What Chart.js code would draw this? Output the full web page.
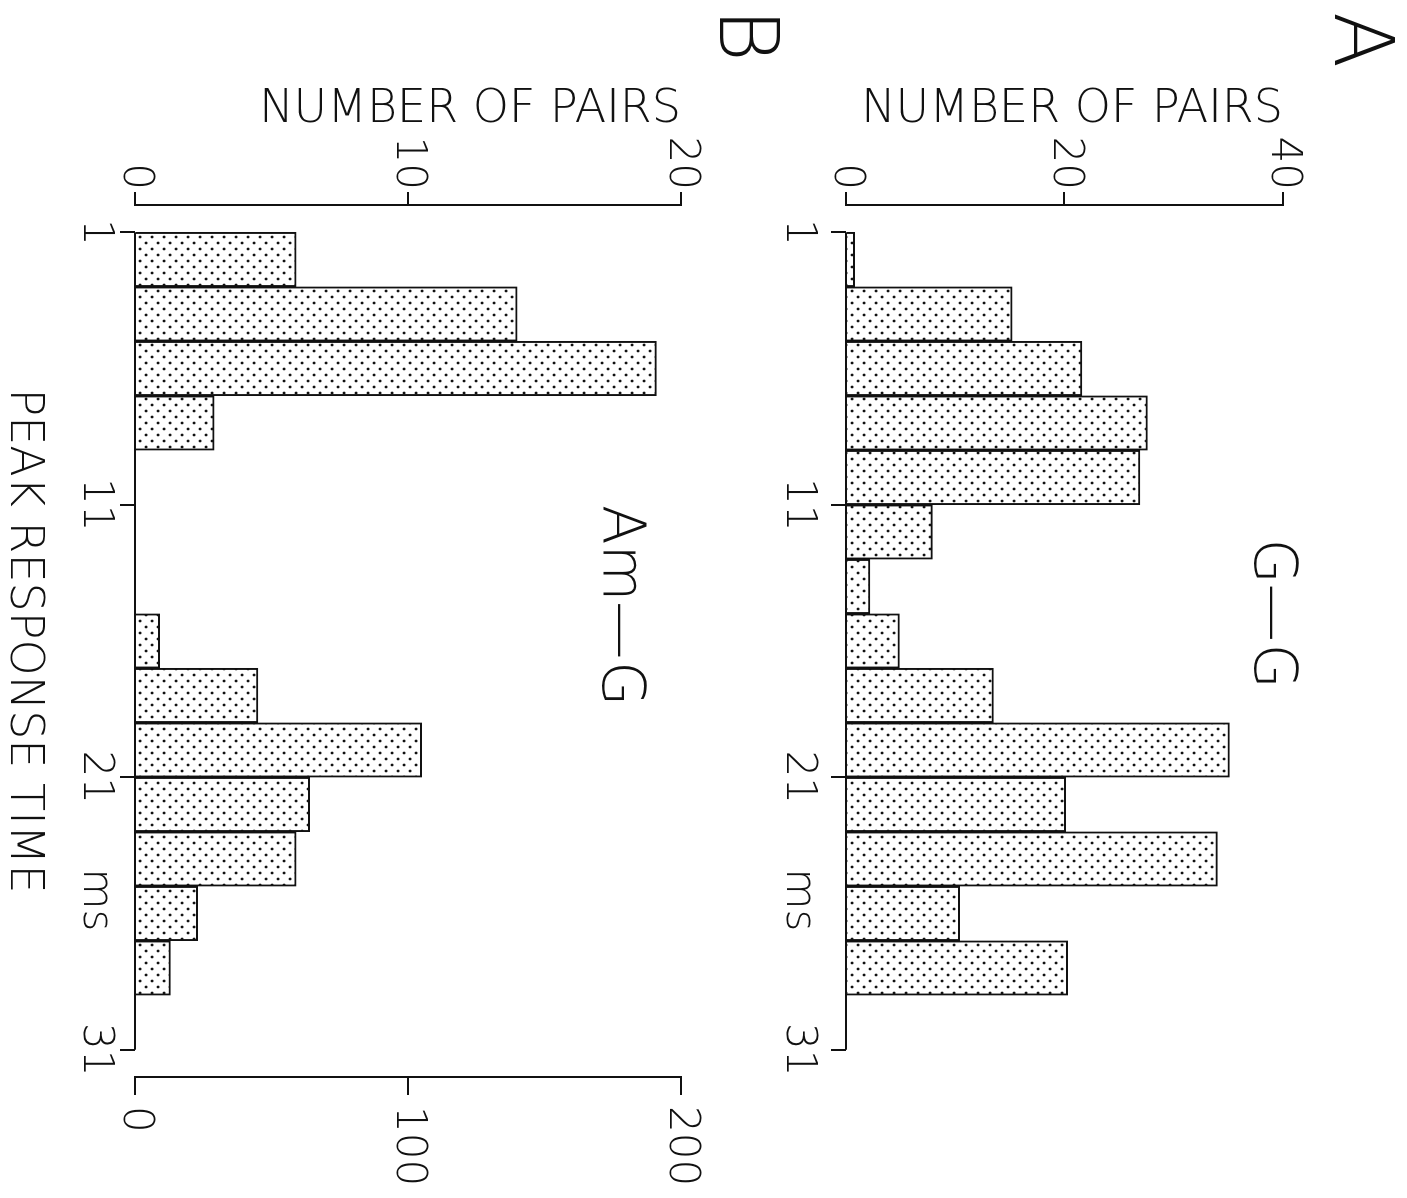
<!DOCTYPE html>
<html>
<head>
<meta charset="utf-8">
<script src="https://cdn.jsdelivr.net/npm/chart.js@4.4.1/dist/chart.umd.min.js"></script>
<style>
  html, body { margin: 0; padding: 0; background: #fff; overflow: hidden; }
  body { width: 1407px; height: 1198px; position: relative; }
  /* the figure is drawn upright and then turned a quarter turn clockwise */
  #page {
    position: absolute; left: 0; top: 0;
    width: 1198px; height: 1407px;
    transform-origin: 0 0;
    transform: translate(1407px, 0) rotate(90deg);
  }
  #page canvas { position: absolute; left: 0; }
</style>
</head>
<body>
<div id="page">
  <canvas id="chartA" width="1198" height="640" style="top:0"></canvas>
  <canvas id="chartB" width="1198" height="797" style="top:610px"></canvas>
</div>
<script>
// peak response time bins (ms), bar centres of 2 ms wide bins
const binCentres = [2, 4, 6, 8, 10, 12, 14, 16, 18, 20, 22, 24, 26, 28];
// A: G-G pairs
const pairsGG = [0.8, 15.2, 21.6, 27.6, 26.9, 7.9, 2.2, 4.9, 13.5, 35.1, 20.1, 34.0, 10.4, 20.3];
// B: Am-G pairs
const pairsAmG = [5.9, 14.0, 19.1, 2.9, null, null, null, 0.9, 4.5, 10.5, 6.4, 5.9, 2.3, 1.3];

const timeTicks = [1, 11, 21, 31];
const msTick = 25.5;
const pairTicksA = [0, 20, 40];
const pairTicksB = [0, 10, 20];
const rightTicksB = [0, 100, 200];

const FONT = '"DejaVu Sans", "Liberation Sans", sans-serif';
const INK = '#111';

function dotPattern() {
    const c = document.createElement('canvas');
    c.width = 12; c.height = 12;
    const g = c.getContext('2d');
    g.fillStyle = '#fff';
    g.fillRect(0, 0, 12, 12);
    g.fillStyle = INK;
    [[3, 3], [9, 9]].forEach(p => {
        g.beginPath();
        g.arc(p[0], p[1], 1.4, 0, Math.PI * 2);
        g.fill();
    });
    return g.createPattern(c, 'repeat');
}

// time axis line only runs from the first to the last tick
const timeAxisLine = {
    id: 'timeAxisLine',
    afterDraw(chart) {
        const x = chart.scales.x, y = chart.scales.y;
        const ctx = chart.ctx;
        ctx.save();
        ctx.strokeStyle = INK;
        ctx.lineWidth = 2;
        ctx.beginPath();
        ctx.moveTo(x.getPixelForValue(timeTicks[0]), y.bottom);
        ctx.lineTo(x.getPixelForValue(timeTicks[timeTicks.length - 1]), y.bottom);
        ctx.stroke();
        ctx.restore();
    }
};

const panelText = {
    id: 'panelText',
    afterDraw(chart, args, opts) {
        const ctx = chart.ctx;
        ctx.save();
        ctx.fillStyle = INK;
        ctx.textAlign = 'center';
        ctx.textBaseline = 'alphabetic';
        ctx.font = '200 82px ' + FONT;
        ctx.fillText(opts.letter, opts.letterX, opts.letterY);
        ctx.font = '200 58px ' + FONT;
        ctx.textBaseline = 'middle';
        ctx.fillText(opts.label,
            chart.scales.x.getPixelForValue(opts.labelAt[0]),
            chart.scales.y.getPixelForValue(opts.labelAt[1]));
        ctx.restore();
    }
};

function tickFont() { return { family: FONT, size: 42, weight: 200 }; }

function timeScale(axisHeight, labelPad, title) {
    return {
        type: 'linear',
        min: 0,
        max: 32,
        offset: false,
        border: { display: false },
        grid: {
            offset: false,
            drawOnChartArea: false,
            tickLength: 15,
            lineWidth: 2,
            tickColor: ctx => (ctx.tick && ctx.tick.value === msTick) ? 'rgba(0,0,0,0)' : INK
        },
        ticks: {
            color: INK,
            font: tickFont(),
            padding: labelPad,
            autoSkip: false,
            minRotation: 0,
            maxRotation: 0,
            callback: v => v === msTick ? 'ms' : v
        },
        title: title ? {
            display: true,
            text: title,
            color: INK,
            font: { family: FONT, size: 46, weight: 200, lineHeight: 1 },
            padding: 0
        } : { display: false },
        afterBuildTicks: s => {
            s.ticks = timeTicks.concat(msTick).sort((a, b) => a - b).map(v => ({ value: v }));
        },
        afterFit: s => { s.height = axisHeight; }
    };
}

function pairScale(max, ticks, position, width, tickLen, pad, title) {
    return {
        type: 'linear',
        position: position,
        min: 0,
        max: max,
        border: { display: true, color: INK, width: 2 },
        grid: { drawOnChartArea: false, tickLength: tickLen, lineWidth: 2, color: INK },
        ticks: { color: INK, font: tickFont(), padding: pad },
        title: title ? {
            display: true,
            text: title,
            align: 'end',
            color: INK,
            font: { family: FONT, size: 46, weight: 200, lineHeight: 1.2 },
            padding: { top: 82, bottom: 0 }
        } : { display: false },
        afterBuildTicks: s => { s.ticks = ticks.map(v => ({ value: v })); },
        afterFit: s => { s.width = width; }
    };
}

function barDataset(values) {
    return {
        data: binCentres.map((t, i) => ({ x: t, y: values[i] })),
        backgroundColor: dotPattern(),
        borderColor: INK,
        borderWidth: 2,
        borderSkipped: 'start',
        barPercentage: 1,
        categoryPercentage: 1
    };
}

const common = {
    responsive: false,
    animation: false,
    events: []
};

new Chart(document.getElementById('chartA'), {
    type: 'bar',
    data: { datasets: [barDataset(pairsGG)] },
    options: Object.assign({}, common, {
        layout: { padding: { top: 124, right: 121, left: 0, bottom: 0 } },
        plugins: {
            legend: { display: false },
            tooltip: { enabled: false },
            panelText: { letter: 'A', letterX: 40, letterY: 72, label: 'G\u2014G', labelAt: [15, 38.8] }
        },
        scales: {
            x: timeScale(79, 8, null),
            y: pairScale(40, pairTicksA, 'left', 205, 13, 2, 'NUMBER OF PAIRS')
        }
    }),
    plugins: [timeAxisLine, panelText]
});

new Chart(document.getElementById('chartB'), {
    type: 'bar',
    data: { datasets: [barDataset(pairsAmG)] },
    options: Object.assign({}, common, {
        layout: { padding: { top: 116, right: 0, left: 0, bottom: 0 } },
        plugins: {
            legend: { display: false },
            tooltip: { enabled: false },
            panelText: { letter: 'B', letterX: 35, letterY: 77, label: 'Am\u2014G', labelAt: [14.7, 17.7] }
        },
        scales: {
            x: timeScale(135, 0, 'PEAK RESPONSE TIME'),
            y: pairScale(20, pairTicksB, 'left', 205, 13, 2, 'NUMBER OF PAIRS'),
            y2: pairScale(200, rightTicksB, 'right', 121, 18, 11, null)
        }
    }),
    plugins: [timeAxisLine, panelText]
});
</script>
</body>
</html>
